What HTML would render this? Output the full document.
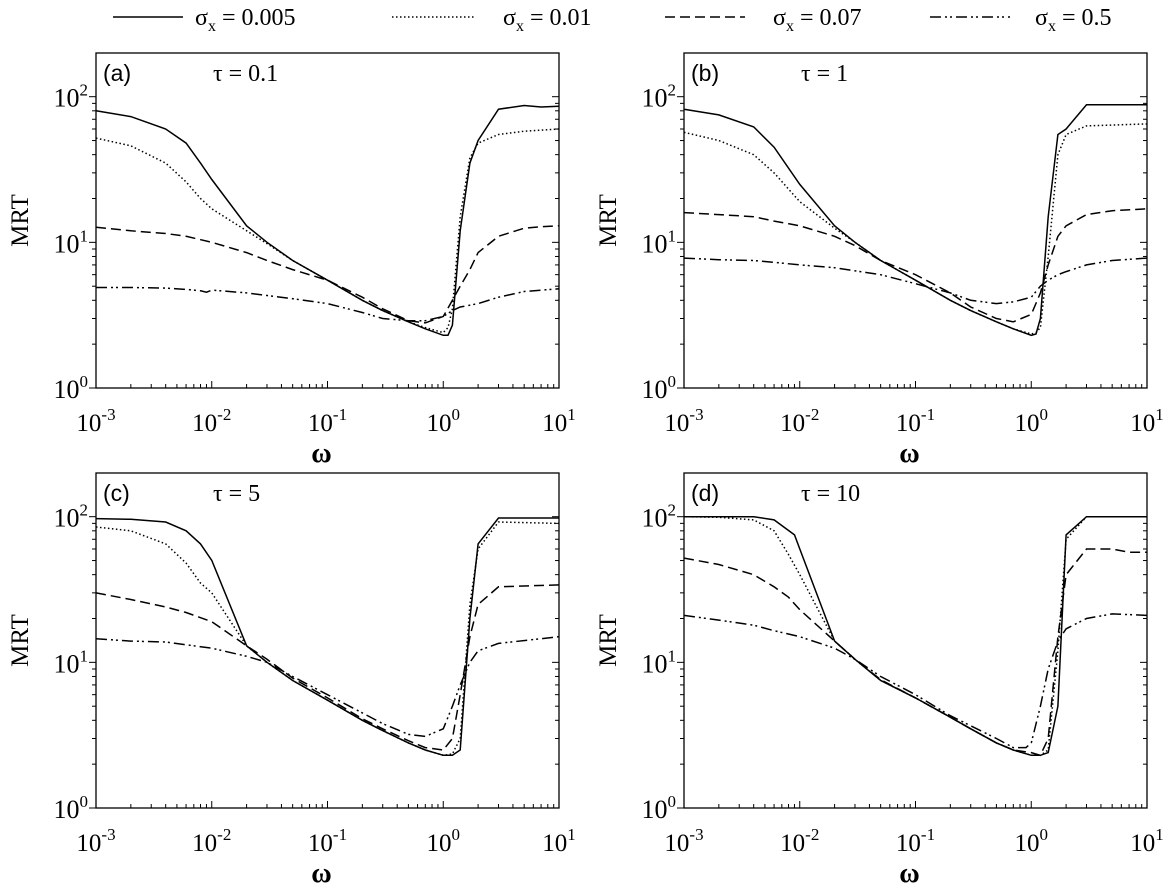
<!DOCTYPE html>
<html><head><meta charset="utf-8"><style>
body{margin:0;background:#fff}
svg{display:block;font-family:"Liberation Serif",serif}
.sans{font-family:"Liberation Sans",sans-serif}
</style></head><body>
<svg id="fig" width="1172" height="892" viewBox="0 0 1172 892">
<g id="legend"></g>
</svg>
<script>
const seriesNames=["σx = 0.005","σx = 0.01","σx = 0.07","σx = 0.5"];
const dashes=["none","1.5 2.5","10 5","11 4 2 3 2 4"];
const panelLabels=["(a)","(b)","(c)","(d)"];
const tauLabels=["τ = 0.1","τ = 1","τ = 5","τ = 10"];
const xTicks=[-3,-2,-1,0,1];
const yTicks=[0,1,2];
// panel a
const aX0=[0.001,0.002,0.004,0.006,0.008,0.01,0.02,0.03,0.05,0.1,0.2,0.3,0.5,0.7,1,1.1,1.2,1.4,1.7,2,3,5,7,10];
const aY0=[80,73,60,48,35,27,13,10,7.5,5.5,4,3.4,2.85,2.55,2.3,2.3,2.7,12,35,50,82,87,85,86];
const aX1=[0.001,0.002,0.004,0.006,0.008,0.01,0.02,0.03,0.05,0.1,0.2,0.3,0.5,0.7,1,1.1,1.2,1.4,1.7,2,3,5,10];
const aY1=[52,46,35,26,20,17,12,9.8,7.5,5.5,4,3.4,2.85,2.6,2.4,2.6,3.5,15,38,48,55,58,60];
const aX2=[0.001,0.002,0.004,0.006,0.01,0.02,0.03,0.05,0.1,0.2,0.3,0.5,0.7,1,1.2,1.4,1.7,2,3,5,7,10];
const aY2=[12.7,12,11.5,11,10,8.5,7.5,6.5,5.5,4.2,3.5,2.9,2.8,3.1,4,5,6.5,8.5,11,12.5,12.8,13];
const aX3=[0.001,0.002,0.004,0.006,0.008,0.009,0.01,0.02,0.05,0.1,0.2,0.3,0.5,0.7,1,1.2,1.4,1.7,2,3,5,10];
const aY3=[4.9,4.9,4.85,4.75,4.65,4.55,4.7,4.5,4.1,3.8,3.3,3.0,2.9,2.9,3.1,3.4,3.6,3.7,3.8,4.2,4.6,4.8];
// panel b
const bX0=[0.001,0.002,0.004,0.006,0.01,0.02,0.03,0.05,0.1,0.2,0.3,0.5,0.7,1,1.1,1.2,1.4,1.7,2,3,10];
const bY0=[82,75,62,45,25,13,10,7.5,5.5,4,3.4,2.85,2.55,2.3,2.35,3,15,55,60,88,88];
const bX1=[0.001,0.002,0.004,0.006,0.01,0.02,0.03,0.05,0.1,0.2,0.3,0.5,0.7,1,1.1,1.2,1.4,1.7,2,3,10];
const bY1=[57,50,40,30,19,12.5,10,7.5,5.5,4,3.4,2.85,2.55,2.35,2.4,2.6,8,40,55,63,65];
const bX2=[0.001,0.002,0.004,0.006,0.01,0.02,0.03,0.05,0.1,0.2,0.3,0.5,0.7,1,1.2,1.4,1.7,2,3,5,10];
const bY2=[16,15.5,15,14,13,11,9.5,7.5,6,4.5,3.6,3.0,2.85,3.2,4.5,7,11,13,15.5,16.5,17];
const bX3=[0.001,0.002,0.004,0.006,0.01,0.02,0.05,0.1,0.2,0.3,0.5,0.7,1,1.2,1.4,1.7,2,3,5,10];
const bY3=[7.8,7.6,7.5,7.3,7,6.7,6.0,5.2,4.5,4.0,3.8,3.9,4.2,5,5.5,6,6.3,7,7.5,7.8];
// panel c
const cX0=[0.001,0.002,0.004,0.006,0.008,0.01,0.02,0.03,0.05,0.1,0.2,0.3,0.5,0.7,1,1.1,1.2,1.4,1.7,2,3,10];
const cY0=[97,96,92,80,65,50,13,10,7.5,5.5,4,3.4,2.8,2.5,2.3,2.3,2.3,2.5,20,65,98,98];
const cX1=[0.001,0.002,0.004,0.006,0.008,0.01,0.02,0.03,0.05,0.1,0.2,0.3,0.5,0.7,1,1.2,1.4,1.7,2,3,10];
const cY1=[85,80,65,48,35,30,13,10,7.5,5.5,4,3.4,2.8,2.5,2.3,2.35,3,25,60,92,90];
const cX2=[0.001,0.002,0.004,0.006,0.01,0.02,0.03,0.05,0.1,0.2,0.3,0.5,0.7,1,1.2,1.4,1.7,2,3,10];
const cY2=[30,27,24,22,19,13,10.5,7.8,5.7,4.1,3.5,2.9,2.6,2.5,3,6,15,25,33,34];
const cX3=[0.001,0.002,0.004,0.006,0.01,0.02,0.03,0.05,0.1,0.2,0.3,0.5,0.7,1,1.2,1.4,1.7,2,3,10];
const cY3=[14.5,14,13.8,13.2,12.5,11,10,8,6,4.5,3.8,3.2,3.1,3.5,5,7,10,12,13.5,15];
// panel d
const dX0=[0.001,0.002,0.004,0.006,0.009,0.01,0.02,0.03,0.05,0.1,0.2,0.3,0.5,0.7,1,1.2,1.4,1.7,2,3,10];
const dY0=[100,100,100,95,75,60,14,10.5,7.5,5.7,4.2,3.5,2.8,2.5,2.3,2.3,2.4,5,75,100,100];
const dX1=[0.001,0.002,0.004,0.006,0.008,0.01,0.02,0.03,0.05,0.1,0.2,0.3,0.5,0.7,1,1.2,1.4,1.7,2,3,10];
const dY1=[100,99,95,80,55,40,14,10.5,7.5,5.7,4.2,3.5,2.8,2.5,2.3,2.3,2.5,12,70,100,100];
const dX2=[0.001,0.002,0.004,0.006,0.008,0.01,0.02,0.03,0.05,0.1,0.2,0.3,0.5,0.7,1,1.2,1.4,1.7,2,3,5,7,10];
const dY2=[52,47,40,33,28,23,14,10.5,7.6,5.7,4.2,3.5,2.8,2.5,2.4,2.3,3,15,40,60,60,57,57];
const dX3=[0.001,0.002,0.004,0.006,0.01,0.02,0.03,0.05,0.1,0.2,0.5,0.7,0.9,1,1.2,1.4,1.7,2,3,5,10];
const dY3=[21,19.5,18,16.5,15,12.5,10.5,8,6,4.3,3,2.6,2.6,2.8,5,9,14,17,20,21.5,21];

const panelData=[[[aX0,aY0],[aX1,aY1],[aX2,aY2],[aX3,aY3]],[[bX0,bY0],[bX1,bY1],[bX2,bY2],[bX3,bY3]],[[cX0,cY0],[cX1,cY1],[cX2,cY2],[cX3,cY3]],[[dX0,dY0],[dX1,dY1],[dX2,dY2],[dX3,dY3]]];
const boxes=[[96,53],[684,53],[96,473],[684,473]];
const W=463,H=335,XMIN=-3,XMAX=1,YMIN=0,YMAX=2.3;
const NS="http://www.w3.org/2000/svg";
const svg=document.getElementById('fig');
function mk(tag,attrs,parent){const e=document.createElementNS(NS,tag);for(const k in attrs)e.setAttribute(k,attrs[k]);(parent||svg).appendChild(e);return e;}

const lg=document.getElementById('legend');
const legPos=[[113,183,195],[392,475,503],[665,745,773],[930,1010,1035]];
seriesNames.forEach((n,i)=>{
  const [x1,x2,tx]=legPos[i];
  const ln=mk('line',{x1:x1,x2:x2,y1:17,y2:17,stroke:'#000','stroke-width':1.4,'stroke-dasharray':dashes[i]},lg);
  
  
  const t=mk('text',{x:tx,y:25,'font-size':24},lg);
  
  
  t.innerHTML='σ<tspan font-size="16" dy="6">x</tspan><tspan dy="-6"> = '+n.split('= ')[1]+'</tspan>';
});

panelData.forEach((series,p)=>{
  const [L,T]=boxes[p];
  const xs=v=>L+(Math.log10(v)-XMIN)/(XMAX-XMIN)*W;
  const ys=v=>T+H-(Math.log10(v)-YMIN)/(YMAX-YMIN)*H;
  const g=mk('g',{});
  
  
  const frame=mk('rect',{x:L,y:T,width:W,height:H,fill:'none',stroke:'#000','stroke-width':1.3},g);
  
  
  for(let d=XMIN;d<XMAX;d++){for(let m=1;m<10;m++){const X=xs(m*Math.pow(10,d));const len=m===1?7:4;
    mk('line',{x1:X,x2:X,y1:T+H,y2:T+H-len,stroke:'#000','stroke-width':1},g);}}
  mk('line',{x1:L+W,x2:L+W,y1:T+H,y2:T+H-7,stroke:'#000'},g);
  xTicks.forEach(e=>{const t=mk('text',{x:xs(Math.pow(10,e)),y:T+H+43,'font-size':25,'text-anchor':'middle'},g);
    
    
    t.innerHTML='10<tspan font-size="17" dy="-11">'+e+'</tspan>';});
  for(let d=YMIN;d<3;d++){for(let m=1;m<10;m++){const v=m*Math.pow(10,d);if(Math.log10(v)>YMAX)break;const Y=ys(v);const len=m===1?7:4;
    mk('line',{x1:L,x2:L-len,y1:Y,y2:Y,stroke:'#000','stroke-width':1},g);
    mk('line',{x1:L+W,x2:L+W-len,y1:Y,y2:Y,stroke:'#000','stroke-width':1},g);}}
  yTicks.forEach(e=>{const t=mk('text',{x:L-8,y:ys(Math.pow(10,e))+10,'font-size':26,'text-anchor':'end'},g);
    
    
    t.innerHTML='10<tspan font-size="17" dy="-11">'+e+'</tspan>';});
  const yt=mk('text',{x:0,y:0,'font-size':25,'text-anchor':'middle',transform:'translate('+(L-68)+','+(T+H/2)+') rotate(-90)'},g);
  
  
  yt.textContent='MRT';
  const xt=mk('text',{x:L+W/2-6,y:T+H+74,'font-size':28,'font-weight':'bold','text-anchor':'middle'},g);
  
  
  xt.textContent='ω';
  const pl=mk('text',{x:L+7,y:T+28,'font-size':23,'class':'sans'},g);
  
  
  pl.textContent=panelLabels[p];
  const tl=mk('text',{x:L+117,y:T+28,'font-size':24},g);
  
  
  tl.textContent=tauLabels[p];
  series.forEach(([X,Y],i)=>{
    const pts=X.map((x,k)=>xs(x).toFixed(1)+','+ys(Y[k]).toFixed(1)).join(' ');
    const line=mk('polyline',{points:pts,fill:'none',stroke:'#000','stroke-width':1.5,'stroke-dasharray':dashes[i]},g);
    
    
  });
});
</script>
</body></html>
